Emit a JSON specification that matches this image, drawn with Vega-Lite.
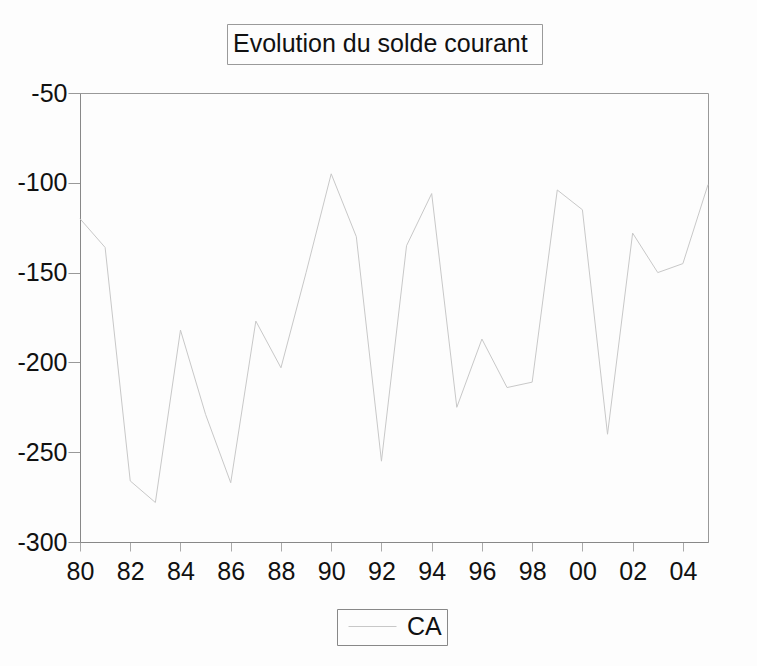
{
  "$schema": "https://vega.github.io/schema/vega-lite/v6.json",
  "width": 628,
  "height": 449,
  "autosize": {"type": "none"},
  "padding": {"left": 80, "top": 93, "right": 49, "bottom": 124},
  "background": "#fdfdfd",
  "data": {
    "values": [
      {"year": 1980, "CA": -120},
      {"year": 1981, "CA": -136},
      {"year": 1982, "CA": -266},
      {"year": 1983, "CA": -278},
      {"year": 1984, "CA": -182},
      {"year": 1985, "CA": -229},
      {"year": 1986, "CA": -267},
      {"year": 1987, "CA": -177},
      {"year": 1988, "CA": -203},
      {"year": 1989, "CA": -150},
      {"year": 1990, "CA": -95},
      {"year": 1991, "CA": -130},
      {"year": 1992, "CA": -255},
      {"year": 1993, "CA": -135},
      {"year": 1994, "CA": -106},
      {"year": 1995, "CA": -225},
      {"year": 1996, "CA": -187},
      {"year": 1997, "CA": -214},
      {"year": 1998, "CA": -211},
      {"year": 1999, "CA": -104},
      {"year": 2000, "CA": -115},
      {"year": 2001, "CA": -240},
      {"year": 2002, "CA": -128},
      {"year": 2003, "CA": -150},
      {"year": 2004, "CA": -145},
      {"year": 2005, "CA": -101}
    ]
  },
  "layer": [
    {
      "mark": {"type": "point", "opacity": 0},
      "encoding": {
        "x": {"field": "year", "type": "quantitative"},
        "y": {"field": "CA", "type": "quantitative"},
        "shape": {
          "datum": "Evolution du  solde courant",
          "type": "nominal",
          "legend": {
            "title": null,
            "orient": "none",
            "legendX": 147,
            "legendY": -69,
            "strokeColor": "#9a9a9a",
            "padding": 7,
            "symbolSize": 0,
            "symbolOpacity": 0,
            "symbolStrokeWidth": 0,
            "labelOffset": -26,
            "labelFont": "Liberation Sans",
            "labelFontSize": 25,
            "labelColor": "#111111",
            "labelLimit": 600
          }
        }
      }
    },
    {
      "mark": {"type": "line", "strokeWidth": 1},
      "encoding": {
        "x": {
          "field": "year",
          "type": "quantitative",
          "scale": {"domain": [1980, 2005], "nice": false, "zero": false},
          "axis": {
            "title": null,
            "grid": false,
            "values": [1980, 1981, 1982, 1983, 1984, 1985, 1986, 1987, 1988, 1989, 1990, 1991, 1992, 1993, 1994, 1995, 1996, 1997, 1998, 1999, 2000, 2001, 2002, 2003, 2004, 2005],
            "labelExpr": "(datum.value % 2 == 0 && datum.value < 2005) ? substring('' + datum.value, 2, 4) : ''",
            "labelFont": "Liberation Sans",
            "labelFontSize": 25,
            "labelColor": "#111111",
            "labelPadding": 8,
            "labelOverlap": false,
            "labelFlush": false,
            "tickSize": 9,
            "tickColor": "#aaaaaa",
            "domainColor": "#888888"
          }
        },
        "y": {
          "field": "CA",
          "type": "quantitative",
          "scale": {"domain": [-300, -50], "nice": false, "zero": false},
          "axis": {
            "title": null,
            "grid": false,
            "values": [-300, -250, -200, -150, -100, -50],
            "labelExpr": "'' + datum.value",
            "labelFont": "Liberation Sans",
            "labelFontSize": 25,
            "labelColor": "#111111",
            "labelPadding": 1,
            "tickSize": 12,
            "tickColor": "#999999",
            "domainColor": "#888888"
          }
        },
        "color": {
          "datum": "CA",
          "type": "nominal",
          "scale": {"range": ["#c8c8c8"]},
          "legend": {
            "title": null,
            "orient": "none",
            "legendX": 257,
            "legendY": 516,
            "strokeColor": "#888888",
            "padding": 5,
            "symbolType": "M-0.5,0H3.5",
            "symbolSize": 576,
            "symbolStrokeWidth": 1,
            "labelFont": "Liberation Sans",
            "labelFontSize": 25,
            "labelColor": "#111111",
            "labelOffset": 40
          }
        }
      }
    }
  ],
  "config": {
    "view": {"stroke": "#999999", "strokeWidth": 1, "fill": "#fdfdfd"}
  }
}
